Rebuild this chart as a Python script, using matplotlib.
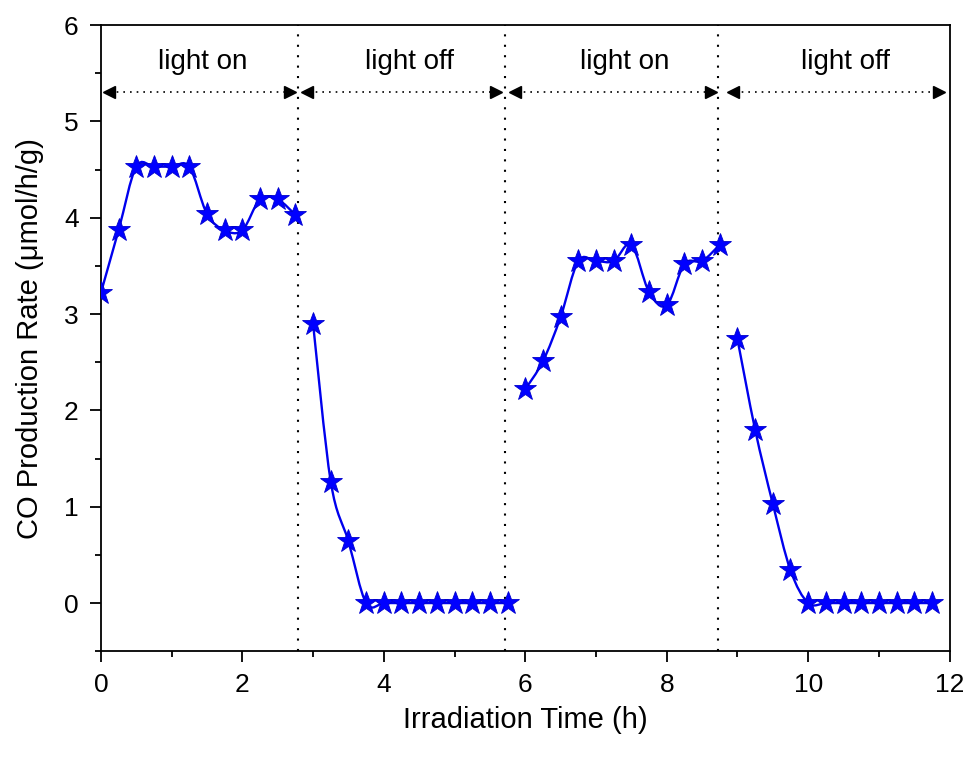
import numpy as np
import matplotlib.pyplot as plt
from matplotlib.path import Path
from matplotlib.patches import PathPatch

plt.rcParams['font.family'] = ['Liberation Sans', 'DejaVu Sans']

# Số liệu (h, µmol/h/g)
t_on1 = [0.0, 0.25, 0.5, 0.75, 1.0, 1.25, 1.5, 1.75, 2.0, 2.25, 2.5, 2.75]
co_on1 = [3.22, 3.87, 4.53, 4.53, 4.53, 4.53, 4.04, 3.87, 3.87, 4.19, 4.19, 4.03]
t_off1 = [3.0, 3.25, 3.5, 3.75, 4.0, 4.25, 4.5, 4.75, 5.0, 5.25, 5.5, 5.75]
co_off1 = [2.90, 1.26, 0.64, 0, 0, 0, 0, 0, 0, 0, 0, 0]
t_on2 = [6.0, 6.25, 6.5, 6.75, 7.0, 7.25, 7.5, 7.75, 8.0, 8.25, 8.5, 8.75]
co_on2 = [2.22, 2.51, 2.97, 3.55, 3.55, 3.55, 3.72, 3.23, 3.09, 3.52, 3.55, 3.72]
t_off2 = [9.0, 9.25, 9.5, 9.75, 10.0, 10.25, 10.5, 10.75, 11.0, 11.25, 11.5, 11.75]
co_off2 = [2.74, 1.80, 1.03, 0.34, 0, 0, 0, 0, 0, 0, 0, 0]

phase_labels = ['light on', 'light off', 'light on', 'light off']
phase_bounds = [2.78, 5.72, 8.72]


def smooth_path(xs, ys):
    """ Đường cong trơn (Catmull-Rom -> Bezier) đi qua các điểm """
    p = np.column_stack([xs, ys]).astype(float)
    n = len(p)
    verts = [p[0]]
    codes = [Path.MOVETO]
    for i in range(n - 1):
        p0 = p[i - 1] if i > 0 else p[i]
        p3 = p[i + 2] if i + 2 < n else p[i + 1]
        c1 = p[i] + (p[i + 1] - p0) / 6
        c2 = p[i + 1] - (p3 - p[i]) / 6
        verts += [c1, c2, p[i + 1]]
        codes += [Path.CURVE4] * 3
    return Path(verts, codes)


fig = plt.figure(figsize=(9.7, 7.59), dpi=100)
ax = fig.add_axes([0.104, 0.142, 0.875, 0.825])

for xs, ys in [(t_on1, co_on1), (t_off1, co_off1), (t_on2, co_on2), (t_off2, co_off2)]:
    ax.add_patch(PathPatch(smooth_path(xs, ys), fill=False, edgecolor='#0000ee', lw=1.7, zorder=3))
    ax.plot(xs, ys, ls='none', marker='*', ms=17, color='#0000ff', mec='#0000cc', mew=0.6, zorder=4)

# Vạch phân chia các pha chiếu sáng
for b in phase_bounds:
    ax.axvline(b, color='black', lw=1.5, ls=(0, (1, 4)), zorder=2)

# Mũi tên hai chiều và nhãn
arrow_spans = [(0.03, 2.76), (2.84, 5.66), (5.78, 8.70), (8.86, 11.93)]
label_x = [1.44, 4.37, 7.41, 10.53]
for (a, b), lbl, lx in zip(arrow_spans, phase_labels, label_x):
    ax.plot([a + 0.1, b - 0.1], [5.3, 5.3], color='black', lw=1.2, ls=(0, (1, 3)))
    ax.plot([a + 0.08], [5.3], marker='<', ms=8, color='black', ls='none')
    ax.plot([b - 0.08], [5.3], marker='>', ms=8, color='black', ls='none')
    ax.text(lx, 5.62, lbl, ha='center', va='center', fontsize=20)

ax.set_xlim(0, 12)
ax.set_ylim(-0.5, 6)
ax.set_xticks(np.arange(0, 13, 2))
ax.set_xticks(np.arange(1, 12, 2), minor=True)
ax.set_yticks(np.arange(0, 7, 1))
ax.set_yticks(np.arange(-0.5, 6, 1), minor=True)
ax.tick_params(which='major', direction='out', length=8, width=1.3, labelsize=19, pad=8)
ax.tick_params(which='minor', direction='out', length=4.5, width=1.3)
for s in ax.spines.values():
    s.set_linewidth(1.3)

ax.set_xlabel('Irradiation Time (h)', fontsize=21, labelpad=6)
ax.set_ylabel('CO Production Rate (μmol/h/g)', fontsize=21, labelpad=14)

fig.savefig('out.png', dpi=100)
